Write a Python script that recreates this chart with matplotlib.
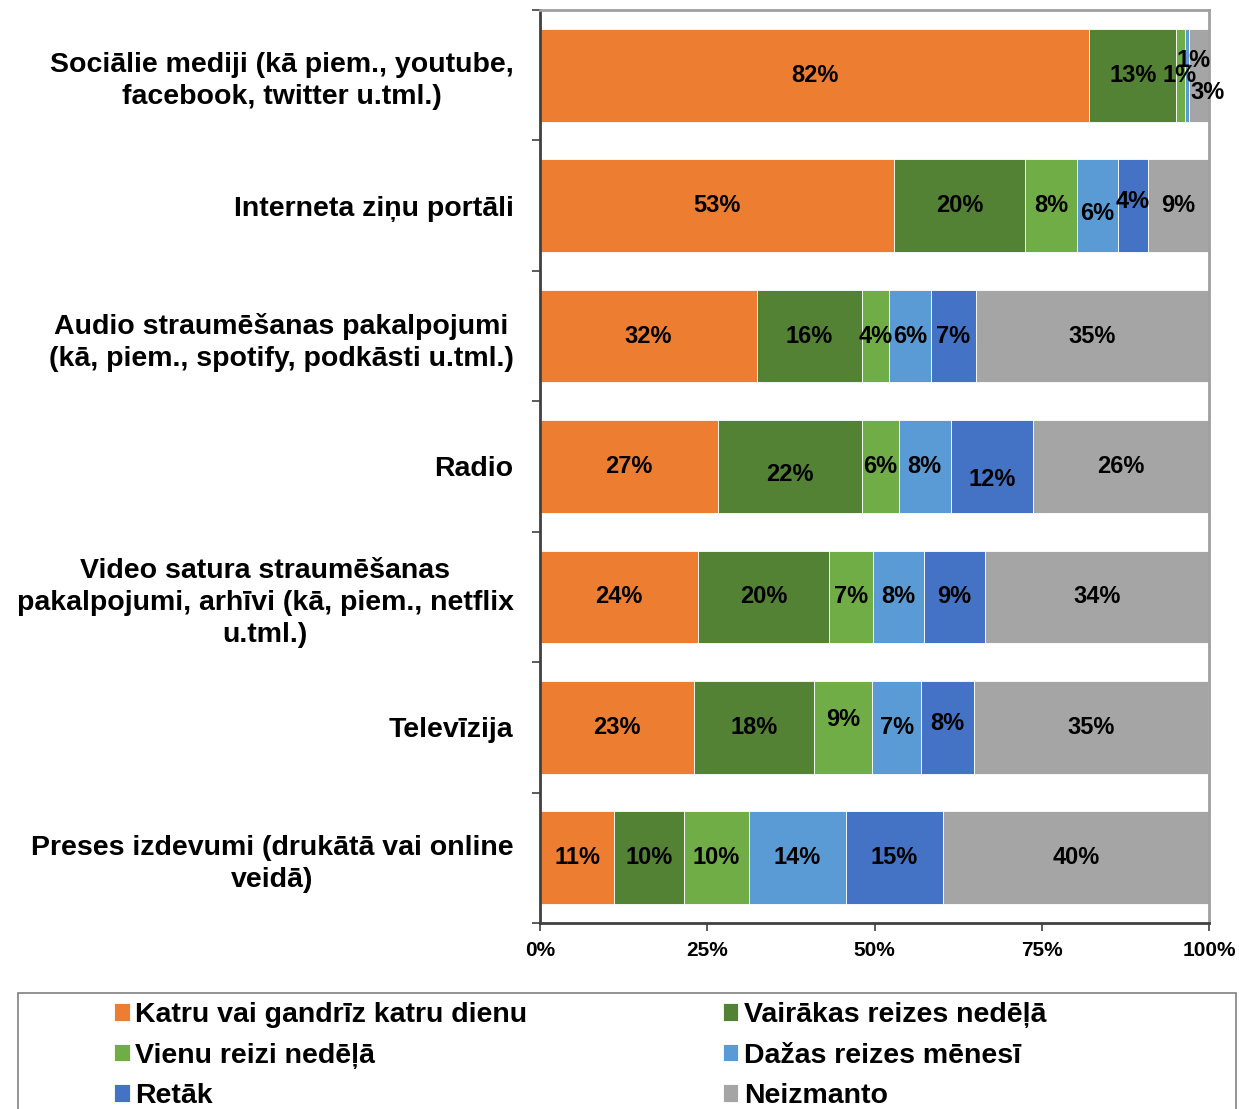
import matplotlib.pyplot as plt
from matplotlib.patches import Rectangle
import numpy as np

plt.rcParams['font.family'] = ['Liberation Sans', 'DejaVu Sans']
plt.rcParams['font.weight'] = 'bold'

kategorijas = [
  'Sociālie mediji (kā piem., youtube,\nfacebook, twitter u.tml.)',
  'Interneta ziņu portāli',
  'Audio straumēšanas pakalpojumi\n(kā, piem., spotify, podkāsti u.tml.)',
  'Radio',
  'Video satura straumēšanas\npakalpojumi, arhīvi (kā, piem., netflix\nu.tml.)',
  'Televīzija',
  'Preses izdevumi (drukātā vai online\nveidā)',
]
serijas = ['Katru vai gandrīz katru dienu', 'Vairākas reizes nedēļā',
           'Vienu reizi nedēļā', 'Dažas reizes mēnesī', 'Retāk', 'Neizmanto']

# procenti katrai kategorijai (secībā kā serijas)
katru_dienu = [82.1, 52.9, 32.4, 26.6, 23.6, 23.0, 11.1]
vairakas_nedela = [13.0, 19.6, 15.8, 21.5, 19.6, 17.9, 10.4]
reizi_nedela = [1.3, 7.8, 3.9, 5.5, 6.6, 8.8, 9.8]
dazas_menesi = [0.6, 6.1, 6.4, 7.8, 7.6, 7.3, 14.4]
retak = [0.0, 4.5, 6.6, 12.3, 9.1, 7.9, 14.6]
neizmanto = [3.0, 9.1, 34.9, 26.3, 33.5, 35.0, 39.7]

krasas = ['#ED7D31', '#548235', '#70AD47', '#5B9BD5', '#4472C4', '#A5A5A5']

# etiķešu nobīdes (rinda, serija) -> (dx, dy) datu vienībās
nobides = {
  (0, 2): (-0.2, 0.0),
  (0, 3): (1.0, -0.11),
  (0, 5): (1.3, 0.13),
  (1, 3): (0.0, 0.06),
  (1, 4): (0.0, -0.03),
  (3, 1): (0.0, 0.06),
  (3, 4): (0.0, 0.10),
  (5, 2): (0.0, -0.06),
  (5, 4): (0.0, -0.03),
}

dati = np.array([katru_dienu, vairakas_nedela, reizi_nedela, dazas_menesi, retak, neizmanto])

fig = plt.figure(figsize=(12.39, 11.09), dpi=100)
ax = fig.add_axes([540/1239, 1-923/1109, 669/1239, 913/1109])

y = np.arange(len(kategorijas))
kreisi = np.zeros(len(kategorijas))
for i, (nosaukums, krasa) in enumerate(zip(serijas, krasas)):
  vert = dati[i]
  ax.barh(y, vert, left=kreisi, height=0.71, color=krasa, edgecolor='white',
          linewidth=0.6, label=nosaukums)
  for r in range(len(kategorijas)):
    if vert[r] < 0.3:
      continue
    dx, dy = nobides.get((r, i), (0.0, 0.0))
    ax.text(kreisi[r] + vert[r]/2 + dx, y[r] + dy, f'{round(vert[r]):.0f}%',
            ha='center', va='center', fontsize=17, fontweight='bold', color='black')
  kreisi += vert

ax.set_xlim(0, 100)
ax.set_ylim(len(kategorijas) - 0.5, -0.5)
ax.set_xticks([0, 25, 50, 75, 100])
ax.set_xticklabels(['0%', '25%', '50%', '75%', '100%'], fontsize=15, fontweight='bold')
ax.set_yticks(y)
ax.set_yticklabels(kategorijas, fontsize=20.5, fontweight='bold', multialignment='center',
                   linespacing=1.3)
ax.set_yticks(np.arange(-0.5, len(kategorijas)), minor=True)
ax.tick_params(axis='y', which='major', length=0, pad=19)
ax.tick_params(axis='y', which='minor', length=6, width=1.2, color='#404040')
ax.tick_params(axis='x', length=6, width=1.2, color='#404040', pad=7)

for s in ['left', 'bottom']:
  ax.spines[s].set_color('#404040')
  ax.spines[s].set_linewidth(2)
for s in ['top', 'right']:
  ax.spines[s].set_color('#A0A0A0')
  ax.spines[s].set_linewidth(2)

# leģendas rāmis
fig.patches.append(Rectangle((18/1239, -0.05), 1218/1239, 0.05 + 1-993/1109,
                             transform=fig.transFigure, fill=False,
                             edgecolor='#808080', linewidth=1.2))
# rindu secība kā oriģinālā: 2 kolonnas, aizpilda pa rindām
h, l = ax.get_legend_handles_labels()
sec = [0, 2, 4, 1, 3, 5]
fig.legend([h[k] for k in sec], [l[k] for k in sec], loc='upper left',
           bbox_to_anchor=(114/1239, 1-1002/1109), ncol=2,
           frameon=False, fontsize=20.5, handlelength=0.55, handleheight=0.55,
           handletextpad=0.2, columnspacing=6.85, labelspacing=0.51,
           borderaxespad=0, borderpad=0)

fig.savefig('out.png', dpi=100)
